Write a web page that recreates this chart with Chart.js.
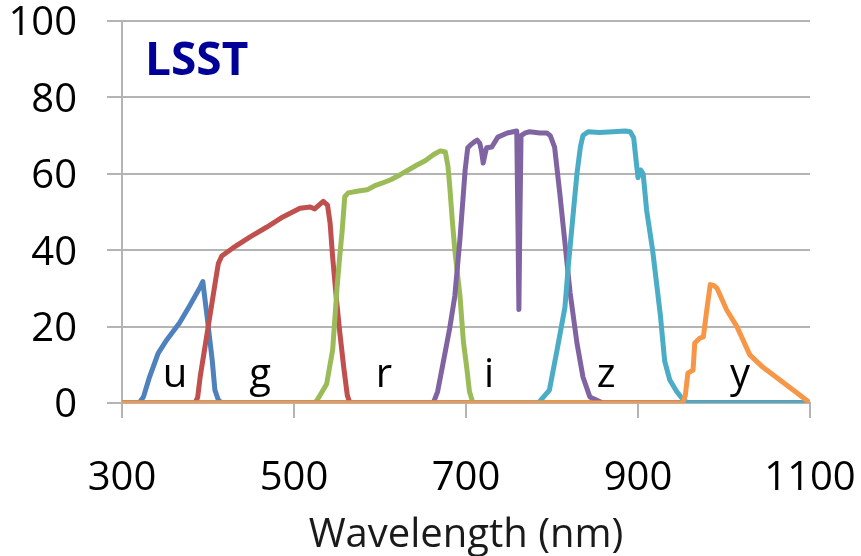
<!DOCTYPE html>
<html>
<head>
<meta charset="utf-8">
<script src="https://cdn.jsdelivr.net/npm/chart.js@4.4.1/dist/chart.umd.min.js"></script>
<style>
  html, body { margin: 0; padding: 0; background: #fff; }
  #wrap { width: 861px; height: 556px; }
</style>
</head>
<body>
<div id="wrap"><canvas id="lsst" width="861" height="556"></canvas></div>
<script>
// filter names and colours (Excel default palette)
const filters = ['u', 'g', 'r', 'i', 'z', 'y'];
const colors = ['#4f81bd', '#c0504d', '#9bbb59', '#8064a2', '#4bacc6', '#f79646'];

// wavelength (nm) / transmission (%)
const uWave  = [300, 320, 325, 332, 342, 352, 367, 379, 391, 394, 396, 399, 405, 408, 412, 416, 1100];
const uTrans = [0, 0, 1.6, 6.8, 13, 16.5, 21, 25.6, 30.4, 31.8, 28, 22.5, 11, 3.4, 0.8, 0, 0];

const gWave  = [300, 385, 388, 391, 396, 402, 408, 412, 416, 429, 449, 468, 487, 507, 519, 524, 534, 539, 542, 545, 549, 553, 558, 562, 565, 1100];
const gTrans = [0, 0, 1.5, 7, 14, 22.5, 31, 36.5, 38.5, 40.6, 43.5, 46, 48.7, 51, 51.3, 50.8, 52.8, 51.8, 47, 38, 28, 19, 9, 2, 0, 0];

const rWave  = [300, 524, 527, 538, 545, 550, 553, 556, 559, 563, 575, 585, 595, 603, 613, 623, 633, 643, 653, 662, 670, 676, 679, 681, 684, 687, 690, 693, 697, 701, 704, 708, 1100];
const rTrans = [0, 0, 0.8, 5, 14, 30, 38, 45, 54, 55, 55.5, 55.8, 57, 57.6, 58.5, 59.7, 61, 62.3, 63.5, 65, 66, 65.7, 62, 57, 48, 40, 34, 28, 16, 9, 3, 0, 0];

const iWave  = [300, 662, 667, 673, 681, 687, 693, 699, 702, 705, 710, 713, 716, 718, 720, 722, 724, 730, 737, 748, 759, 760.5, 761.5, 762.5, 764, 769, 774, 786, 794, 798, 803, 809, 815, 821, 829, 836, 844, 859, 1100];
const iTrans = [0, 0, 3, 10, 19.5, 28, 43, 61, 66.8, 67.5, 68.4, 68.8, 68, 66, 62.8, 65, 66.8, 67, 69.6, 70.7, 71.2, 45, 24.5, 45, 70, 70.7, 71, 70.7, 70.7, 70, 67, 55, 42, 29, 15.7, 6.8, 1.6, 0, 0];

const zWave  = [300, 784, 786, 797, 806, 815, 819, 824, 829, 833, 836, 842, 855, 871, 885, 891, 895, 898, 900, 903, 906, 910, 917, 926, 931, 937, 945, 952, 958, 1100];
const zTrans = [0, 0, 0.5, 3.4, 14, 25, 36, 48, 60, 67, 70, 71, 70.8, 71, 71.2, 71, 69.4, 63, 59, 61, 60, 50.5, 40, 23, 11, 6, 3, 1, 0, 0];

const yWave  = [300, 952, 955, 958, 964, 966, 972, 976, 980, 984, 988, 992, 1003, 1015, 1030, 1045, 1065, 1085, 1100];
const yTrans = [0, 0, 2, 7.8, 8.6, 15.7, 17, 17.3, 24.4, 31, 30.8, 30, 24.4, 20, 12.6, 9.4, 6, 2.6, 0];

// letter labels under each band (wavelength of letter centre)
const bandLabelX = [361.6, 460.5, 604.7, 726.7, 862.8, 1018.6];
const bandLabelY = 4.2;

const xTicks = [300, 500, 700, 900, 1100];
const yTicks = [0, 20, 40, 60, 80, 100];

const waves = [uWave, gWave, rWave, iWave, zWave, yWave];
const trans = [uTrans, gTrans, rTrans, iTrans, zTrans, yTrans];

const gridGray = '#b4b4b4';
const fontFam = '"Open Sans", "DejaVu Sans", sans-serif';

function makeDatasets() {
    return filters.map((f, k) => ({
        label: f,
        data: waves[k].map((w, j) => ({ x: w, y: trans[k][j] })),
        borderColor: colors[k],
        borderWidth: 5,
        pointRadius: 0,
        tension: 0,
        fill: false,
        borderJoinStyle: 'round',
        order: filters.length - k   // later filters drawn on top
    }));
}

// draws the band letters and the LSST tag
const textPlugin = {
    id: 'bandText',
    afterDatasetsDraw(chart) {
        const ctx = chart.ctx;
        const xs = chart.scales.x, ys = chart.scales.y;
        ctx.save();
        ctx.fillStyle = '#000';
        ctx.font = '40px ' + fontFam;
        ctx.textAlign = 'center';
        ctx.textBaseline = 'alphabetic';
        filters.forEach((f, k) => {
            ctx.fillText(f, xs.getPixelForValue(bandLabelX[k]), ys.getPixelForValue(bandLabelY));
        });
        ctx.fillStyle = '#000099';
        ctx.font = 'bold 46px ' + fontFam;
        ctx.textAlign = 'left';
        ctx.fillText('LSST', chart.chartArea.left + 23, chart.chartArea.top + 54);
        ctx.restore();
    }
};

new Chart(document.getElementById('lsst'), {
    type: 'line',
    data: { datasets: makeDatasets() },
    options: {
        responsive: false,
        animation: false,
        layout: { padding: { top: 21, right: 51, left: 0, bottom: 0 } },
        plugins: { legend: { display: false }, tooltip: { enabled: false } },
        scales: {
            x: {
                type: 'linear',
                min: 300, max: 1100,
                afterBuildTicks: (s) => { s.ticks = xTicks.map(v => ({ value: v })); },
                afterFit: (s) => { s.height = 153; s.paddingLeft = 0; s.paddingRight = 0; },
                ticks: {
                    color: '#000',
                    padding: 37,
                    maxRotation: 0,
                    callback: (v) => String(v),
                    font: { family: fontFam, size: 40, lineHeight: 1.2 }
                },
                grid: { drawOnChartArea: false, drawTicks: true, tickLength: 15, color: gridGray, lineWidth: 2 },
                border: { display: true, color: gridGray, width: 2 },
                title: {
                    display: true,
                    text: 'Wavelength (nm)',
                    color: '#1a1a1a',
                    padding: { top: 0, bottom: 0 },
                    font: { family: fontFam, size: 40, lineHeight: 1.0 }
                }
            },
            y: {
                min: 0, max: 100,
                afterBuildTicks: (s) => { s.ticks = yTicks.map(v => ({ value: v })); },
                afterFit: (s) => { s.width = 122; s.paddingTop = 0; s.paddingBottom = 0; },
                ticks: {
                    color: '#000',
                    padding: 30,
                    labelOffset: 3,
                    font: { family: fontFam, size: 40, lineHeight: 1 }
                },
                grid: { color: gridGray, lineWidth: 2, tickLength: 15 },
                border: { display: true, color: gridGray, width: 2 }
            }
        }
    },
    plugins: [textPlugin]
});
</script>
</body>
</html>
